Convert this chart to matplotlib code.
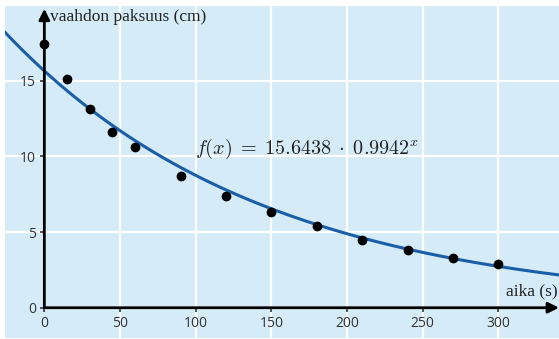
import numpy as np
import matplotlib
matplotlib.use("Agg")
import matplotlib.pyplot as plt

# Measurements: foam thickness over time
time_s = [0, 15, 30, 45, 60, 90, 120, 150, 180, 210, 240, 270, 300]
thickness_cm = [17.4, 15.1, 13.1, 11.6, 10.6, 8.7, 7.4, 6.3, 5.4, 4.5, 3.8, 3.3, 2.9]

# Exponential fit f(x) = a * b**x
fit_a = 15.6438
fit_b = 0.9942

x_ticks = [50, 100, 150, 200, 250, 300]
y_ticks = [5, 10, 15]

BG = "#d5ebf7"
CURVE = "#1a5ea8"

plt.rcParams["mathtext.fontset"] = "cm"

fig = plt.figure(figsize=(5.59, 3.39), dpi=100)
ax = fig.add_axes([5 / 559, 1 / 339, 554 / 559, 333 / 339])
ax.set_facecolor(BG)

x0, x1 = -26, 340
y0, y1 = -2, 20
ax.set_xlim(x0, x1)
ax.set_ylim(y0, y1)

# white grid
for xv in x_ticks:
    ax.axvline(xv, color="white", lw=1.6, zorder=1)
for yv in y_ticks + [20]:
    ax.axhline(yv, color="white", lw=1.6, zorder=1)

# fitted curve
xs = np.linspace(x0, x1, 400)
ax.plot(xs, fit_a * fit_b ** xs, color=CURVE, lw=2.2, zorder=3)

# data points
ax.scatter(time_s, thickness_cm, s=36, color="black", zorder=4)

# axes through the origin
for s in ["top", "right", "left", "bottom"]:
    ax.spines[s].set_visible(False)

ax.annotate("", xy=(0, 19.75), xytext=(0, 0),
            arrowprops=dict(arrowstyle="-|>", lw=2, color="black",
                            mutation_scale=16, shrinkA=0, shrinkB=0), zorder=5)
ax.annotate("", xy=(x1, 0), xytext=(0, 0),
            arrowprops=dict(arrowstyle="-|>", lw=2, color="black",
                            mutation_scale=16, shrinkA=0, shrinkB=0), zorder=5)
ax.spines["left"].set_position(("data", 0))
ax.spines["bottom"].set_position(("data", 0))

ax.set_xticks([0] + x_ticks)
ax.set_yticks([0] + y_ticks)
ax.set_xticklabels(["0"] + [str(v) for v in x_ticks])
ax.set_yticklabels(["0"] + [str(v) for v in y_ticks])
ax.tick_params(axis="both", length=3, width=1.2, color="#333333",
               labelcolor="#333333", labelsize=10, pad=3)
for lab in ax.get_xticklabels() + ax.get_yticklabels():
    lab.set_fontfamily("Open Sans")

# axis titles
ax.text(3.5, 19.2, "vaahdon paksuus (cm)", family="Liberation Serif",
        fontsize=12.5, color="#222222", ha="left", va="center", zorder=6)
ax.text(339, 1.1, "aika (s)", family="Liberation Serif",
        fontsize=12.5, color="#222222", ha="right", va="center", zorder=6)

# fit equation
ax.text(99.5, 10.5, r"$f(x)\;=\;15.6438\;\cdot\;0.9942^{x}$", fontsize=14.5,
        color="#222222", ha="left", va="center", zorder=6)

fig.savefig("out.png", dpi=100, facecolor="white")
